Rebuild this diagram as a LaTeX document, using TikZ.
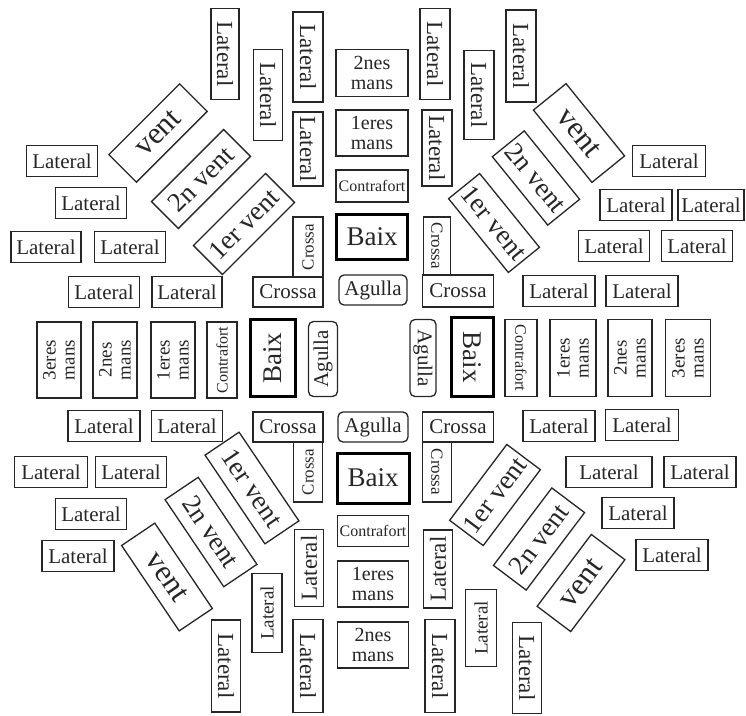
\documentclass[tikz,border=0pt]{standalone}
\usepackage{fontspec}
\setmainfont{Liberation Serif}
\begin{document}
\begin{tikzpicture}[x=1pt,y=-1pt,
  fs/.style={font=\fontsize{#1}{#1}\selectfont},
  bx/.style 2 args={draw=black!85, line width=1.3pt, inner sep=0pt, align=center, text=black!85,
     minimum width=#1pt, minimum height=#2pt},
  thick box/.style={line width=3pt, draw=black},
  rnd/.style={rounded corners=5pt},
  lat/.style={bx={#1}{31}, fs=21},
  vl/.style={fs=23},
]
\useasboundingbox (0,0) rectangle (746,715);

% ---- top centre column
\node[bx={72}{47}, fs=20] (tm2) at (372,73) {2nes\\mans};
\node[bx={72}{46}, fs=20] (tm1) at (372,133) {1eres\\mans};
\node[bx={72}{32}, fs=16] (tcf) at (372,186) {Contrafort};
\node[bx={71}{45}, fs=27, thick box] (tbx) at (372,237) {Baix};
\node[bx={68}{30}, fs=21, rnd] (tag) at (373,290) {Agulla};
\node[bx={70}{30}, fs=21] (tcl) at (288,292) {Crossa};
\node[bx={60}{30}, fs=17, rotate=90] (tclv) at (308,247) {Crossa};
\node[bx={71}{32}, fs=21] (tcr) at (458,291) {Crossa};
\node[bx={58}{27}, fs=17, rotate=-90] (tcrv) at (437,246) {Crossa};

% ---- top vertical laterals
\node[bx={91}{28}, vl, rotate=-90] (tv1) at (225,54) {Lateral};
\node[bx={91}{29}, vl, rotate=-90] (tv2) at (268,95) {Lateral};
\node[bx={90}{30}, vl, rotate=-90] (tv3) at (308,57) {Lateral};
\node[bx={74}{30}, vl, rotate=-90] (tv4) at (308,149) {Lateral};
\node[bx={91}{30}, vl, rotate=-90] (tv5) at (435,54) {Lateral};
\node[bx={89}{30}, vl, rotate=-90] (tv6) at (479,95) {Lateral};
\node[bx={76}{30}, vl, rotate=-90] (tv7) at (437,148) {Lateral};
\node[bx={92}{30}, vl, rotate=-90] (tv8) at (521,56) {Lateral};

% ---- top-left laterals
\node[lat=71] (tl1l) at (62,161) {Lateral};
\node[lat=71] (tl2l) at (91,203) {Lateral};
\node[lat=70] (tl3l) at (46,247) {Lateral};
\node[lat=71] (tl4l) at (130,247) {Lateral};
\node[lat=71] (tl5l) at (104,292) {Lateral};
\node[lat=70] (tl6l) at (187,292) {Lateral};

% ---- top-right laterals
\node[lat=73] (tr1l) at (669,161) {Lateral};
\node[lat=72] (tr2l) at (636,205) {Lateral};
\node[lat=66] (tr3l) at (711,205) {Lateral};
\node[lat=71] (tr4l) at (614,246) {Lateral};
\node[lat=71] (tr5l) at (697,246) {Lateral};
\node[lat=72] (tr6l) at (559,291) {Lateral};
\node[lat=72] (tr7l) at (642,291) {Lateral};

% ---- top vents
\node[bx={100}{39}, fs=31, rotate=45] (tlv) at (158,133) {vent};
\node[bx={102}{38}, fs=27, rotate=45] (tl2) at (201,179) {2n vent};
\node[bx={102}{41}, fs=27, rotate=45] (tl1) at (244,224) {1er vent};
\node[bx={93}{42}, fs=31, rotate=-51] (trv) at (579,133) {vent};
\node[bx={88}{41}, fs=27, rotate=-51] (tr2) at (536,178) {2n vent};
\node[bx={95}{40}, fs=27, rotate=-51] (tr1) at (494,223) {1er vent};

% ---- middle band left
\node[bx={76}{44}, fs=19, rotate=90] (lm3) at (59,360) {3eres\\mans};
\node[bx={76}{44}, fs=19, rotate=90] (lm2) at (115,360) {2nes\\mans};
\node[bx={76}{44}, fs=19, rotate=90] (lm1) at (173,360) {1eres\\mans};
\node[bx={76}{30}, fs=16, rotate=90] (lcf) at (222,360) {Contrafort};
\node[bx={77}{45}, fs=27, thick box, rotate=90] (lbx) at (273,358) {Baix};
\node[bx={75}{29}, fs=21, rnd, rotate=90] (lag) at (323,359) {Agulla};

% ---- middle band right
\node[bx={77}{26}, fs=21, rnd, rotate=-90] (rag) at (423,358) {Agulla};
\node[bx={79}{42}, fs=27, thick box, rotate=-90] (rbx) at (472,357) {Baix};
\node[bx={77}{32}, fs=16, rotate=-90] (rcf) at (521,358) {Contrafort};
\node[bx={77}{46}, fs=19, rotate=90] (rm1) at (573,358) {1eres\\mans};
\node[bx={77}{44}, fs=19, rotate=90] (rm2) at (630,358) {2nes\\mans};
\node[bx={77}{45}, fs=19, rotate=90] (rm3) at (688,358) {3eres\\mans};

% ---- bottom centre column
\node[bx={70}{30}, fs=21] (bcl) at (288,427) {Crossa};
\node[bx={60}{29}, fs=17, rotate=90] (bclv) at (308,472) {Crossa};
\node[bx={70}{30}, fs=21, rnd] (bag) at (373,427) {Agulla};
\node[bx={71}{30}, fs=21] (bcr) at (458,427) {Crossa};
\node[bx={60}{29}, fs=17, rotate=-90] (bcrv) at (437,472) {Crossa};
\node[bx={72}{50}, fs=27, thick box] (bbx) at (373,478) {Baix};
\node[bx={71}{31}, fs=16] (bcf) at (373,531) {Contrafort};
\node[bx={71}{46}, fs=20] (bm1) at (373,584) {1eres\\mans};
\node[bx={71}{46}, fs=20] (bm2) at (373,645) {2nes\\mans};

% ---- bottom vertical laterals
\node[bx={77}{29}, vl, rotate=90] (bv1) at (309,568) {Lateral};
\node[bx={93}{30}, vl, rotate=-90] (bv2) at (308,666) {Lateral};
\node[bx={79}{30}, fs=19, rotate=90] (bv3) at (267,613) {Lateral};
\node[bx={92}{29}, vl, rotate=-90] (bv4) at (226,666) {Lateral};
\node[bx={78}{29}, vl, rotate=90] (bv5) at (438,569) {Lateral};
\node[bx={93}{30}, vl, rotate=-90] (bv6) at (440,666) {Lateral};
\node[bx={77}{31}, fs=19, rotate=90] (bv7) at (481,628) {Lateral};
\node[bx={91}{29}, vl, rotate=-90] (bv8) at (527,668) {Lateral};

% ---- bottom-left laterals
\node[lat=72] (bl1l) at (104,426) {Lateral};
\node[lat=71] (bl2l) at (187,426) {Lateral};
\node[lat=73] (bl3l) at (51,472) {Lateral};
\node[lat=71] (bl4l) at (131,472) {Lateral};
\node[lat=71] (bl5l) at (91,514) {Lateral};
\node[lat=72] (bl6l) at (78,556) {Lateral};

% ---- bottom-right laterals
\node[lat=72] (br1l) at (559,426) {Lateral};
\node[lat=73] (br2l) at (642,425) {Lateral};
\node[lat=86] (br3l) at (609,472) {Lateral};
\node[lat=72] (br4l) at (700,472) {Lateral};
\node[lat=72] (br5l) at (638,513) {Lateral};
\node[lat=72] (br6l) at (672,555) {Lateral};

% ---- bottom vents
\node[bx={107}{41}, fs=27, rotate=-56] (bl1) at (252,488) {1er vent};
\node[bx={105}{40}, fs=27, rotate=-56] (bl2) at (211,532) {2n vent};
\node[bx={103}{40}, fs=31, rotate=-56] (blv) at (167,577) {vent};
\node[bx={95}{42}, fs=27, rotate=53] (br1) at (495,495) {1er vent};
\node[bx={97}{41}, fs=27, rotate=53] (br2) at (539,539) {2n vent};
\node[bx={90}{42}, fs=31, rotate=53] (brv) at (581,583) {vent};
\end{tikzpicture}
\end{document}
